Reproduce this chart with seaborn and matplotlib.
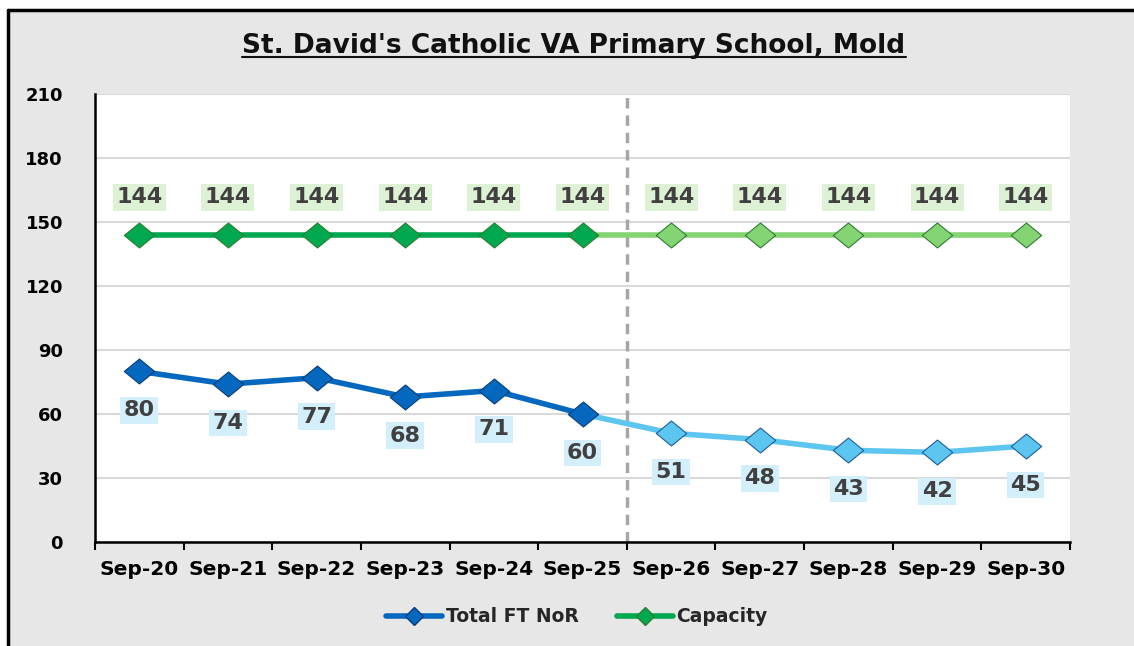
import matplotlib
matplotlib.use("Agg")
import matplotlib.pyplot as plt
from matplotlib.lines import Line2D
from matplotlib.patches import Rectangle
from matplotlib.path import Path
import seaborn as sns
import pandas as pd

categories = ["Sep-20", "Sep-21", "Sep-22", "Sep-23", "Sep-24", "Sep-25",
              "Sep-26", "Sep-27", "Sep-28", "Sep-29", "Sep-30"]
nor_values = [80, 74, 77, 68, 71, 60, 51, 48, 43, 42, 45]
capacity_values = [144] * 11
actual_count = 6  # Sep-20 .. Sep-25 are actual, the rest projections
title = "St. David's Catholic VA Primary School, Mold"
y_ticks = [0, 30, 60, 90, 120, 150, 180, 210]

sns.set_theme(style="white")
plt.rcParams["font.family"] = ["DejaVu Sans"]

BLUE_D, BLUE_L = "#0468BF", "#5CC6F0"
BLUE_EDGE_D, BLUE_EDGE_L = "#0A3D7A", "#1E5E9A"
GREEN_D, GREEN_L = "#00A84F", "#84D474"
GREEN_EDGE = "#2E7D32"
TXT = "#404040"

# slightly wide diamond marker
DIAMOND = Path([(0, 0.82), (1, 0), (0, -0.82), (-1, 0), (0, 0.82)],
               [Path.MOVETO, Path.LINETO, Path.LINETO, Path.LINETO, Path.CLOSEPOLY])

W, H = 1134, 646
fig = plt.figure(figsize=(W / 100, H / 100), dpi=100, facecolor="white")
fig.add_artist(Rectangle((8 / W, 0), 1 - 8 / W, 1 - 10 / H, transform=fig.transFigure,
                         facecolor="#E7E7E7", edgecolor="none", lw=0, zorder=-10))
fig.add_artist(Line2D([8 / W, 8 / W], [0, 1 - 10 / H], transform=fig.transFigure,
                      color="black", lw=2.5))
fig.add_artist(Line2D([8 / W, 1], [1 - 10 / H, 1 - 10 / H], transform=fig.transFigure,
                      color="black", lw=2.5))

ax = fig.add_axes([95 / W, 1 - 542 / H, (1070 - 95) / W, (542 - 94) / H])
ax.set_facecolor("white")

x = list(range(len(categories)))
df = pd.DataFrame({"x": x, "cat": categories, "nor": nor_values, "cap": capacity_values})
act = df.iloc[:actual_count]
proj = df.iloc[actual_count - 1:]

# lines
sns.lineplot(data=proj, x="x", y="cap", ax=ax, color=GREEN_L, lw=4, zorder=3)
sns.lineplot(data=act, x="x", y="cap", ax=ax, color=GREEN_D, lw=4, zorder=4)
sns.lineplot(data=proj, x="x", y="nor", ax=ax, color=BLUE_L, lw=4, zorder=3)
sns.lineplot(data=act, x="x", y="nor", ax=ax, color=BLUE_D, lw=4, zorder=4)

# markers
pa = df.iloc[:actual_count]
pp = df.iloc[actual_count:]
MS = 480
ax.scatter(pa["x"], pa["cap"], marker=DIAMOND, s=MS, color=GREEN_D, edgecolor=GREEN_EDGE, lw=0.8, zorder=5)
ax.scatter(pp["x"], pp["cap"], marker=DIAMOND, s=MS, color=GREEN_L, edgecolor=GREEN_EDGE, lw=0.8, zorder=5)
ax.scatter(pa["x"], pa["nor"], marker=DIAMOND, s=MS, color=BLUE_D, edgecolor=BLUE_EDGE_D, lw=0.8, zorder=5)
ax.scatter(pp["x"], pp["nor"], marker=DIAMOND, s=MS, color=BLUE_L, edgecolor=BLUE_EDGE_L, lw=0.8, zorder=5)

# data labels
for xi, v in zip(x, capacity_values):
    ax.annotate(f"{v}", (xi, v), xytext=(0, 27), textcoords="offset points",
                ha="center", va="center", fontsize=16, fontweight="bold", color=TXT,
                bbox=dict(boxstyle="square,pad=0.15", facecolor="#DDF2D5", edgecolor="none"),
                zorder=6)
for xi, v in zip(x, nor_values):
    ax.annotate(f"{v}", (xi, v), xytext=(0, -28), textcoords="offset points",
                ha="center", va="center", fontsize=16, fontweight="bold", color=TXT,
                bbox=dict(boxstyle="square,pad=0.15", facecolor="#D3EFFB", edgecolor="none"),
                zorder=6)

# divider
ax.axvline(actual_count - 0.5, color="#A6A6A6", lw=2.5, ls=(0, (3, 2)), zorder=2)

ax.set_xlim(-0.5, len(categories) - 0.5)
ax.set_ylim(0, 210)
ax.set_yticks(y_ticks)
ax.set_yticklabels([str(t) for t in y_ticks], fontsize=13, fontweight="bold", color="black")
ax.set_xticks(x)
ax.set_xticklabels(categories, fontsize=14.5, fontweight="bold", color="black")
ax.set_xticks([i + 0.5 for i in range(-1, len(categories))], minor=True)
ax.tick_params(axis="x", which="major", length=0, pad=13)
ax.tick_params(axis="x", which="minor", length=6, width=1.5, color="black", direction="out", bottom=True)
ax.tick_params(axis="y", length=0, pad=23)

ax.grid(axis="y", color="#D9D9D9", lw=1.5, zorder=0)
ax.grid(axis="x", visible=False)
ax.set_axisbelow(True)
for s in ["top", "right"]:
    ax.spines[s].set_visible(False)
ax.spines["left"].set_color("black")
ax.spines["left"].set_linewidth(1.8)
ax.spines["bottom"].set_color("black")
ax.spines["bottom"].set_linewidth(1.8)
ax.set_xlabel("")
ax.set_ylabel("")

t = fig.text(574 / W, 1 - 46 / H, title, ha="center", va="center",
             fontsize=19, fontweight="bold", color="#111111")
fig.canvas.draw()
bb = t.get_window_extent()
fig.add_artist(Line2D([bb.x0 / W, bb.x1 / W], [(bb.y0 + 2) / H, (bb.y0 + 2) / H],
                      transform=fig.transFigure, color="#111111", lw=1.5))

handles = [
    Line2D([], [], color=BLUE_D, lw=4, marker="D", markersize=9,
           markerfacecolor=BLUE_D, markeredgecolor=BLUE_EDGE_D),
    Line2D([], [], color=GREEN_D, lw=4, marker="D", markersize=9,
           markerfacecolor=GREEN_D, markeredgecolor=GREEN_EDGE),
]
leg = fig.legend(handles, ["Total FT NoR", "Capacity"], loc="center",
                 bbox_to_anchor=(577 / W, 1 - 617 / H), ncol=2, frameon=False,
                 prop={"weight": "bold", "size": 13.5}, handlelength=3.0,
                 handletextpad=0.2, columnspacing=2.0)

fig.savefig("out.png", dpi=100, facecolor=fig.get_facecolor())
